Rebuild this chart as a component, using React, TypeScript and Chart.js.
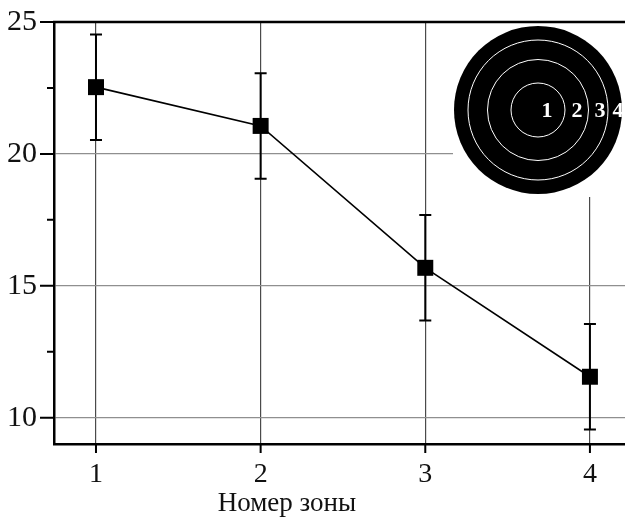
import React, { useEffect, useRef } from 'react';
import { Chart, registerables } from 'chart.js';

Chart.register(...registerables);

// ---- data ----
const zones = [1, 2, 3, 4];
const values = [22.53, 21.06, 15.68, 11.55];
const errors = [2.0, 2.0, 2.0, 2.0];
const yMajorTicks = [10, 15, 20, 25];
const yMinorTicks = [12.5, 17.5, 22.5];
const targetLabels = ['1', '2', '3', '4'];
const xTitle = 'Номер зоны';

const SERIF = '"Liberation Serif", "Times New Roman", serif';

const decorPlugin = {
  id: 'decor',
  beforeDatasetsDraw(chart: any) {
    const { ctx, chartArea: a, scales } = chart;
    const xs = scales.x;
    const ys = scales.y;
    ctx.save();
    // white box behind the target
    ctx.fillStyle = '#ffffff';
    ctx.fillRect(a.right - 172, a.top + 1, 172, 174);
    // target
    const cx = a.right - 87;
    const cy = a.top + 88;
    ctx.fillStyle = '#000000';
    ctx.beginPath();
    ctx.arc(cx, cy, 84, 0, Math.PI * 2);
    ctx.fill();
    ctx.strokeStyle = '#ffffff';
    ctx.lineWidth = 1;
    [27, 50.5, 70].forEach((r) => {
      ctx.beginPath();
      ctx.arc(cx, cy, r, 0, Math.PI * 2);
      ctx.stroke();
    });
    ctx.fillStyle = '#ffffff';
    ctx.font = `bold 22px ${SERIF}`;
    ctx.textAlign = 'center';
    ctx.textBaseline = 'middle';
    const offs = [9, 39, 62, 80];
    targetLabels.forEach((t, i) => ctx.fillText(t, cx + offs[i], cy + 1));

    // error bars
    ctx.strokeStyle = '#000000';
    ctx.lineWidth = 2;
    values.forEach((v, i) => {
      const px = xs.getPixelForValue(zones[i]);
      const pt = ys.getPixelForValue(v + errors[i]);
      const pb = ys.getPixelForValue(v - errors[i]);
      ctx.beginPath();
      ctx.moveTo(px, pt);
      ctx.lineTo(px, pb);
      ctx.moveTo(px - 6, pt);
      ctx.lineTo(px + 6, pt);
      ctx.moveTo(px - 6, pb);
      ctx.lineTo(px + 6, pb);
      ctx.stroke();
    });
    ctx.restore();
  },
  afterDraw(chart: any) {
    const { ctx, chartArea: a, scales } = chart;
    const xs = scales.x;
    const ys = scales.y;
    ctx.save();
    ctx.strokeStyle = '#000000';
    // top frame
    ctx.lineWidth = 2.5;
    ctx.beginPath();
    ctx.moveTo(a.left - 1, a.top);
    ctx.lineTo(a.right, a.top);
    ctx.stroke();
    // tick marks
    ctx.lineWidth = 2;
    ctx.beginPath();
    yMajorTicks.forEach((v) => {
      const py = ys.getPixelForValue(v);
      ctx.moveTo(a.left - 14, py);
      ctx.lineTo(a.left, py);
    });
    yMinorTicks.forEach((v) => {
      const py = ys.getPixelForValue(v);
      ctx.moveTo(a.left - 7, py);
      ctx.lineTo(a.left, py);
    });
    zones.forEach((v) => {
      const px = xs.getPixelForValue(v);
      ctx.moveTo(px, a.bottom);
      ctx.lineTo(px, a.bottom + 9);
    });
    ctx.stroke();
    // axis title
    ctx.fillStyle = '#111111';
    ctx.font = `27px ${SERIF}`;
    ctx.textAlign = 'center';
    ctx.textBaseline = 'middle';
    ctx.fillText(xTitle, xs.getPixelForValue(2.16), a.bottom + 60);
    ctx.restore();
  },
};

const noPad = (s: any) => {
  s.paddingTop = 0;
  s.paddingBottom = 0;
  s.paddingLeft = 0;
  s.paddingRight = 0;
};

export default function App() {
  const ref = useRef<HTMLCanvasElement | null>(null);

  useEffect(() => {
    if (!ref.current) return;
    const chart = new Chart(ref.current, {
      type: 'line',
      data: {
        datasets: [
          {
            data: zones.map((z, i) => ({ x: z, y: values[i] })),
            borderColor: '#000000',
            borderWidth: 1.6,
            pointStyle: 'rect',
            pointRadius: 11.3,
            pointBackgroundColor: '#000000',
            pointBorderWidth: 0,
            tension: 0,
          },
        ],
      },
      options: {
        animation: false,
        responsive: false,
        maintainAspectRatio: false,
        layout: { autoPadding: false, padding: { top: 22, right: 0, left: 0, bottom: 0 } },
        plugins: {
          legend: { display: false },
          tooltip: { enabled: false },
          title: { display: false },
        },
        scales: {
          x: {
            type: 'linear',
            min: 0.745,
            max: 4.213,
            afterBuildTicks: (s: any) => {
              s.ticks = zones.map((v) => ({ value: v }));
            },
            afterFit: (s: any) => {
              s.height = 74;
              noPad(s);
            },
            ticks: {
              padding: 14,
              color: '#111111',
              font: { family: SERIF, size: 28 },
              callback: (v: any) => String(v),
            },
            grid: { color: '#4a4a4a', lineWidth: 1.2, drawTicks: false },
            border: { display: true, color: '#000000', width: 2.5 },
          },
          y: {
            type: 'linear',
            min: 9.0,
            max: 25,
            afterBuildTicks: (s: any) => {
              s.ticks = yMajorTicks.map((v) => ({ value: v }));
            },
            afterFit: (s: any) => {
              s.width = 54;
              noPad(s);
            },
            ticks: {
              padding: 17,
              color: '#111111',
              font: { family: SERIF, size: 30 },
              callback: (v: any) => String(v),
            },
            grid: { color: '#8f8f8f', lineWidth: 1.2, drawTicks: false },
            border: { display: true, color: '#000000', width: 2.5 },
          },
        },
      },
      plugins: [decorPlugin],
    } as any);
    return () => chart.destroy();
  }, []);

  return (
    <div style={{ position: 'fixed', left: 0, top: 0, width: 625, height: 518, background: '#ffffff' }}>
      <canvas ref={ref} width={625} height={518} />
    </div>
  );
}
